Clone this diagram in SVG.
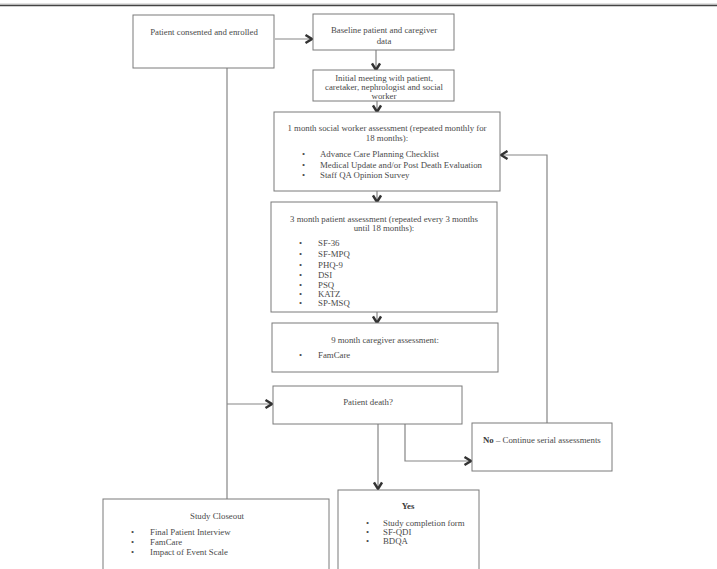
<svg xmlns="http://www.w3.org/2000/svg" width="717" height="569" viewBox="0 0 717 569">
  <style>
    .box { fill: #ffffff; stroke: #7a7a7a; stroke-width: 1; }
    .wire { fill: none; stroke: #858585; stroke-width: 1.2; }
    text { font-family: "Liberation Serif", "DejaVu Serif", serif; font-size: 8.8px; fill: #4a4a4a; }
    .c { text-anchor: middle; }
    .b { font-weight: bold; fill: #3a3a3a; }
  </style>
  <defs>
    <marker id="chev" viewBox="0 0 10 10" refX="8.5" refY="5" markerWidth="10" markerHeight="10" markerUnits="userSpaceOnUse" orient="auto">
      <path d="M2,1 L8.5,5 L2,9" fill="none" stroke="#333333" stroke-width="2.4"/>
    </marker>
  </defs>

  <rect x="0" y="0" width="717" height="569" fill="#ffffff"/>
  <!-- page rule -->
  <line x1="0" y1="4" x2="717" y2="4" stroke="#c4c4c4" stroke-width="1"/>
  <line x1="0" y1="5.5" x2="717" y2="5.5" stroke="#444444" stroke-width="1.4"/>

  <g id="connectors">
    <line class="wire" x1="275" y1="39" x2="312" y2="39" marker-end="url(#chev)"/>
    <line class="wire" x1="376" y1="50" x2="376" y2="70" marker-end="url(#chev)"/>
    <line class="wire" x1="377" y1="101" x2="377" y2="112" marker-end="url(#chev)"/>
    <line class="wire" x1="377" y1="191" x2="377" y2="202" marker-end="url(#chev)"/>
    <line class="wire" x1="377" y1="312" x2="377" y2="323" marker-end="url(#chev)"/>
    <line class="wire" x1="227" y1="68" x2="227" y2="499"/>
    <line class="wire" x1="227" y1="404" x2="272" y2="404" marker-end="url(#chev)"/>
    <line class="wire" x1="378" y1="424" x2="378" y2="489" marker-end="url(#chev)"/>
    <polyline class="wire" points="405,424 405,461 471,461" marker-end="url(#chev)"/>
    <polyline class="wire" points="547,423 547,155 501,155" marker-end="url(#chev)"/>
  </g>

  <g id="enrolled">
    <rect class="box" x="133" y="15" width="141" height="53"/>
    <text class="c" x="204" y="35">Patient consented and enrolled</text>
  </g>

  <g id="baseline">
    <rect class="box" x="313" y="14" width="141" height="36"/>
    <text class="c" x="384" y="33">Baseline patient and caregiver</text>
    <text class="c" x="384" y="44">data</text>
  </g>

  <g id="initial-meeting">
    <rect class="box" x="313" y="70" width="141" height="31"/>
    <text class="c" x="384" y="81">Initial meeting with patient,</text>
    <text class="c" x="384" y="90">caretaker, nephrologist and social</text>
    <text class="c" x="384" y="99">worker</text>
  </g>

  <g id="social-worker">
    <rect class="box" x="274" y="112" width="226" height="79"/>
    <text class="c" x="387" y="131">1 month social worker assessment (repeated monthly for</text>
    <text class="c" x="387" y="141">18 months):</text>
    <text x="302" y="157">•</text><text x="320" y="157">Advance Care Planning Checklist</text>
    <text x="302" y="168">•</text><text x="320" y="168">Medical Update and/or Post Death Evaluation</text>
    <text x="302" y="178">•</text><text x="320" y="178">Staff QA Opinion Survey</text>
  </g>

  <g id="patient-assessment">
    <rect class="box" x="271" y="202" width="226" height="110"/>
    <text class="c" x="384" y="222">3 month patient assessment (repeated every 3 months</text>
    <text class="c" x="384" y="231">until 18 months):</text>
    <text x="299" y="246">•</text><text x="318" y="246">SF-36</text>
    <text x="299" y="257">•</text><text x="318" y="257">SF-MPQ</text>
    <text x="299" y="268">•</text><text x="318" y="268">PHQ-9</text>
    <text x="299" y="278">•</text><text x="318" y="278">DSI</text>
    <text x="299" y="288">•</text><text x="318" y="288">PSQ</text>
    <text x="299" y="297">•</text><text x="318" y="297">KATZ</text>
    <text x="299" y="306">•</text><text x="318" y="306">SP-MSQ</text>
  </g>

  <g id="caregiver-assessment">
    <rect class="box" x="272" y="323" width="226" height="49"/>
    <text class="c" x="385" y="343">9 month caregiver assessment:</text>
    <text x="299" y="358">•</text><text x="318" y="358">FamCare</text>
  </g>

  <g id="patient-death">
    <rect class="box" x="273" y="386" width="189" height="38"/>
    <text class="c" x="368" y="405">Patient death?</text>
  </g>

  <g id="no-branch">
    <rect class="box" x="472" y="423" width="140" height="48"/>
    <text x="483" y="443"><tspan class="b">No</tspan> – Continue serial assessments</text>
  </g>

  <g id="study-closeout">
    <rect class="box" x="103" y="499" width="226" height="80"/>
    <text class="c" x="217" y="519">Study Closeout</text>
    <text x="131" y="535">•</text><text x="150" y="535">Final Patient Interview</text>
    <text x="131" y="545">•</text><text x="150" y="545">FamCare</text>
    <text x="131" y="555">•</text><text x="150" y="555">Impact of Event Scale</text>
  </g>

  <g id="yes-branch">
    <rect class="box" x="338" y="490" width="141" height="90"/>
    <text class="c b" x="408" y="509">Yes</text>
    <text x="366" y="526">•</text><text x="383" y="526">Study completion form</text>
    <text x="366" y="535">•</text><text x="383" y="535">SF-QDI</text>
    <text x="366" y="544">•</text><text x="383" y="544">BDQA</text>
  </g>
</svg>
